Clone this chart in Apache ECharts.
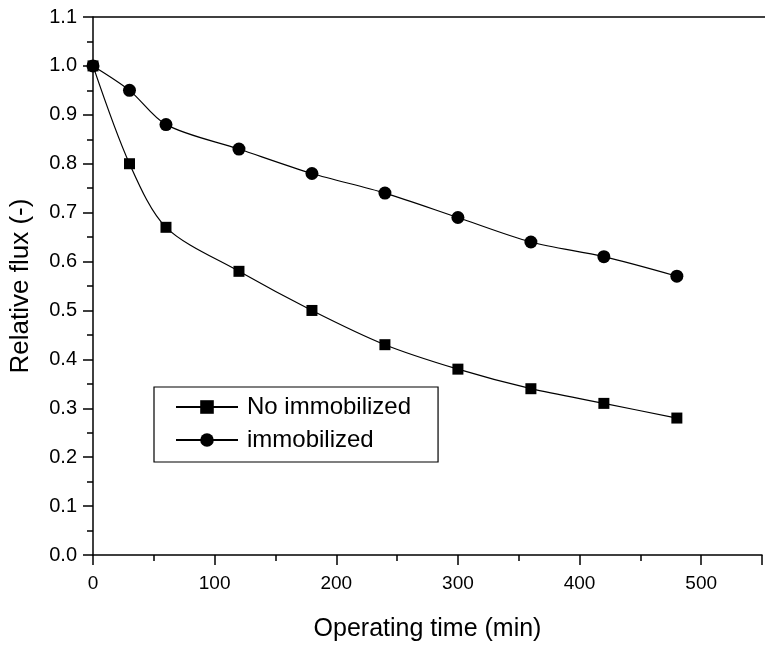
<!DOCTYPE html>
<html>
<head>
<meta charset="utf-8">
<script src="https://cdn.jsdelivr.net/npm/echarts@6/dist/echarts.min.js"></script>
<style>
  html, body { margin: 0; padding: 0; background: #fff; }
  #chart { width: 765px; height: 647px; }
</style>
</head>
<body>
<div id="chart"></div>
<script>
// Operating time (min) at each flux measurement
const times = [0, 30, 60, 120, 180, 240, 300, 360, 420, 480];
// Relative flux, membrane without immobilization
const fluxNoImmobilized = [1.00, 0.80, 0.67, 0.58, 0.50, 0.43, 0.38, 0.34, 0.31, 0.28];
// Relative flux, membrane with immobilization
const fluxImmobilized = [1.00, 0.95, 0.88, 0.83, 0.78, 0.74, 0.69, 0.64, 0.61, 0.57];
const seriesNames = ['No immobilized', 'immobilized'];

const pairs = (xs, ys) => xs.map((x, i) => [x, ys[i]]);
const FONT = '"Liberation Sans", Arial, sans-serif';

const chart = echarts.init(document.getElementById('chart'), null, { renderer: 'canvas' });

const axisCommon = {
  axisLine: { show: true, onZero: false, lineStyle: { color: '#000', width: 1.5 } },
  axisTick: { show: true, inside: false, length: 10, lineStyle: { color: '#000', width: 1.5 } },
  minorTick: { show: true, splitNumber: 2, length: 6, lineStyle: { color: '#000', width: 1.5 } },
  splitLine: { show: false },
  nameLocation: 'middle'
};

chart.setOption({
  backgroundColor: '#fff',
  animation: false,
  grid: { left: 93, top: 17, width: 678, height: 543, containLabel: false, show: false },
  xAxis: Object.assign({}, axisCommon, {
    type: 'value',
    min: 0, max: 550, interval: 100,
    name: 'Operating time (min)',
    nameGap: 62,
    nameTextStyle: { fontFamily: FONT, fontSize: 25, color: '#000' },
    axisLabel: {
      fontFamily: FONT, fontSize: 19, color: '#000', margin: 19,
      formatter: v => (v % 100 === 0 ? String(v) : '')
    }
  }),
  yAxis: Object.assign({}, axisCommon, {
    type: 'value',
    min: 0, max: 1.1, interval: 0.1,
    name: 'Relative flux (-)',
    nameGap: 59,
    nameTextStyle: { fontFamily: FONT, fontSize: 26, color: '#000' },
    axisLabel: {
      fontFamily: FONT, fontSize: 20, color: '#000', margin: 16,
      formatter: v => v.toFixed(1)
    }
  }),
  legend: {
    orient: 'vertical',
    left: 154, top: 387,
    padding: [6, 27, 8, 21],
    itemGap: 5,
    itemWidth: 62,
    itemHeight: 17,
    borderColor: '#000',
    borderWidth: 1.2,
    borderRadius: 0,
    textStyle: { fontFamily: FONT, fontSize: 24, lineHeight: 28, color: '#000', padding: [0, 0, 0, 4] },
    data: seriesNames
  },
  graphic: [
    // top frame line of the plot box
    {
      type: 'line', z: 10,
      shape: { x1: 93, y1: 17, x2: 765, y2: 17 },
      style: { stroke: '#000', lineWidth: 1.5 }
    }
  ],
  series: [
    {
      name: seriesNames[0],
      type: 'line',
      data: pairs(times, fluxNoImmobilized),
      smooth: 0.3,
      symbol: 'rect',
      symbolSize: 11,
      itemStyle: { color: '#000' },
      lineStyle: { color: '#000', width: 1.2 },
      clip: false
    },
    {
      name: seriesNames[1],
      type: 'line',
      data: pairs(times, fluxImmobilized),
      smooth: 0.3,
      symbol: 'circle',
      symbolSize: 13,
      itemStyle: { color: '#000' },
      lineStyle: { color: '#000', width: 1.2 },
      clip: false
    }
  ]
});
</script>
</body>
</html>
